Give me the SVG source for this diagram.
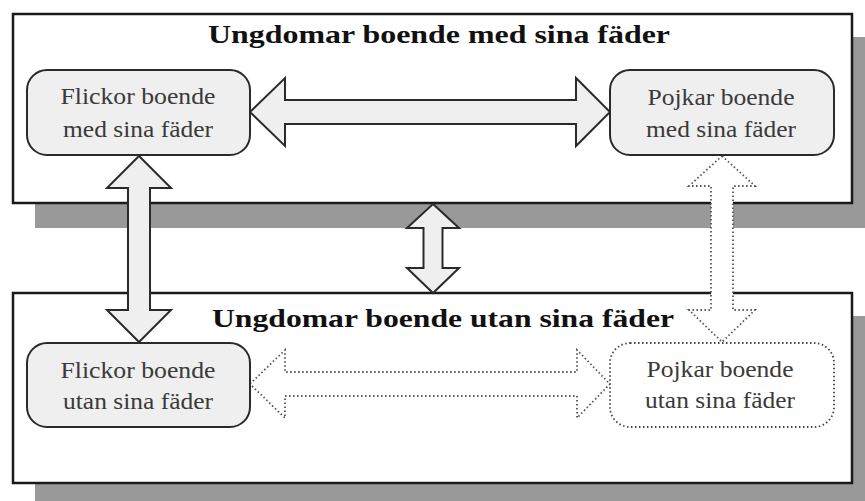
<svg xmlns="http://www.w3.org/2000/svg" width="865" height="501" viewBox="0 0 865 501">
<style>
.shadow{fill:#999999;stroke:none}
.frame{fill:#ffffff;stroke:#1a1a1a;stroke-width:2.5}
.title{font-family:'Liberation Serif','Times New Roman',Times,serif;font-weight:bold;font-size:25px;fill:#111111;text-anchor:middle}
.node{fill:#efefef;stroke:#2a2a2a;stroke-width:2}
.nodedot{fill:#ffffff;stroke:#444444;stroke-width:1.8;stroke-dasharray:1.5 2.5}
.label{font-family:'Liberation Serif','Times New Roman',Times,serif;font-size:23px;fill:#3a3a3a;text-anchor:middle}
.arrow{fill:#efefef;stroke:#2a2a2a;stroke-width:2;stroke-linejoin:miter}
.arrowdot{fill:#ffffff;stroke:#555555;stroke-width:1.8;stroke-dasharray:1.5 2.5}
</style>
<rect width="865" height="501" fill="#ffffff"/>
<g id="group-top">
<rect class="shadow" x="35" y="37" width="830" height="191"/>
<rect class="frame" x="13" y="14" width="839" height="189"/>
<text class="title" x="439" y="43" textLength="462" lengthAdjust="spacingAndGlyphs">Ungdomar boende med sina fäder</text>
</g>
<g id="group-bottom">
<rect class="shadow" x="35" y="316" width="830" height="185"/>
<rect class="frame" x="13" y="293" width="839" height="190"/>
<text class="title" x="443" y="327" textLength="462" lengthAdjust="spacingAndGlyphs">Ungdomar boende utan sina fäder</text>
</g>
<g id="connectors">
<polygon class="arrow" points="250,112 285,78 285,100 576,100 576,78 610,112 576,146 576,124 285,124 285,146"/>
<polygon class="arrow" points="139,156 171,188 150,188 150,310 171,310 139,342 107,310 128,310 128,188 107,188"/>
<polygon class="arrow" points="433,204 459,228 442.5,228 442.5,268 459,268 433,293 407,268 423.5,268 423.5,228 407,228"/>
<polygon class="arrowdot" points="722,156 755,186 733,186 733,310 755,310 722,342 689,310 711,310 711,186 689,186"/>
<polygon class="arrowdot" points="250,384 285,350 285,372 577,372 577,350 610,384 577,418 577,396 285,396 285,418"/>
</g>
<g id="node-flickor-med">
<rect class="node" x="27" y="70" width="223" height="85" rx="20" ry="20"/>
<text class="label" x="138" y="104" textLength="155" lengthAdjust="spacingAndGlyphs">Flickor boende</text>
<text class="label" x="138" y="137" textLength="150" lengthAdjust="spacingAndGlyphs">med sina fäder</text>
</g>
<g id="node-pojkar-med">
<rect class="node" x="610" y="70" width="224" height="85" rx="20" ry="20"/>
<text class="label" x="721" y="105" textLength="147" lengthAdjust="spacingAndGlyphs">Pojkar boende</text>
<text class="label" x="721" y="137" textLength="150" lengthAdjust="spacingAndGlyphs">med sina fäder</text>
</g>
<g id="node-flickor-utan">
<rect class="node" x="27" y="343" width="223" height="84" rx="20" ry="20"/>
<text class="label" x="138" y="378" textLength="155" lengthAdjust="spacingAndGlyphs">Flickor boende</text>
<text class="label" x="138" y="409" textLength="150" lengthAdjust="spacingAndGlyphs">utan sina fäder</text>
</g>
<g id="node-pojkar-utan">
<rect class="nodedot" x="610" y="343" width="224" height="84" rx="20" ry="20"/>
<text class="label" x="720" y="377" textLength="147" lengthAdjust="spacingAndGlyphs">Pojkar boende</text>
<text class="label" x="720" y="408" textLength="150" lengthAdjust="spacingAndGlyphs">utan sina fäder</text>
</g>
</svg>
